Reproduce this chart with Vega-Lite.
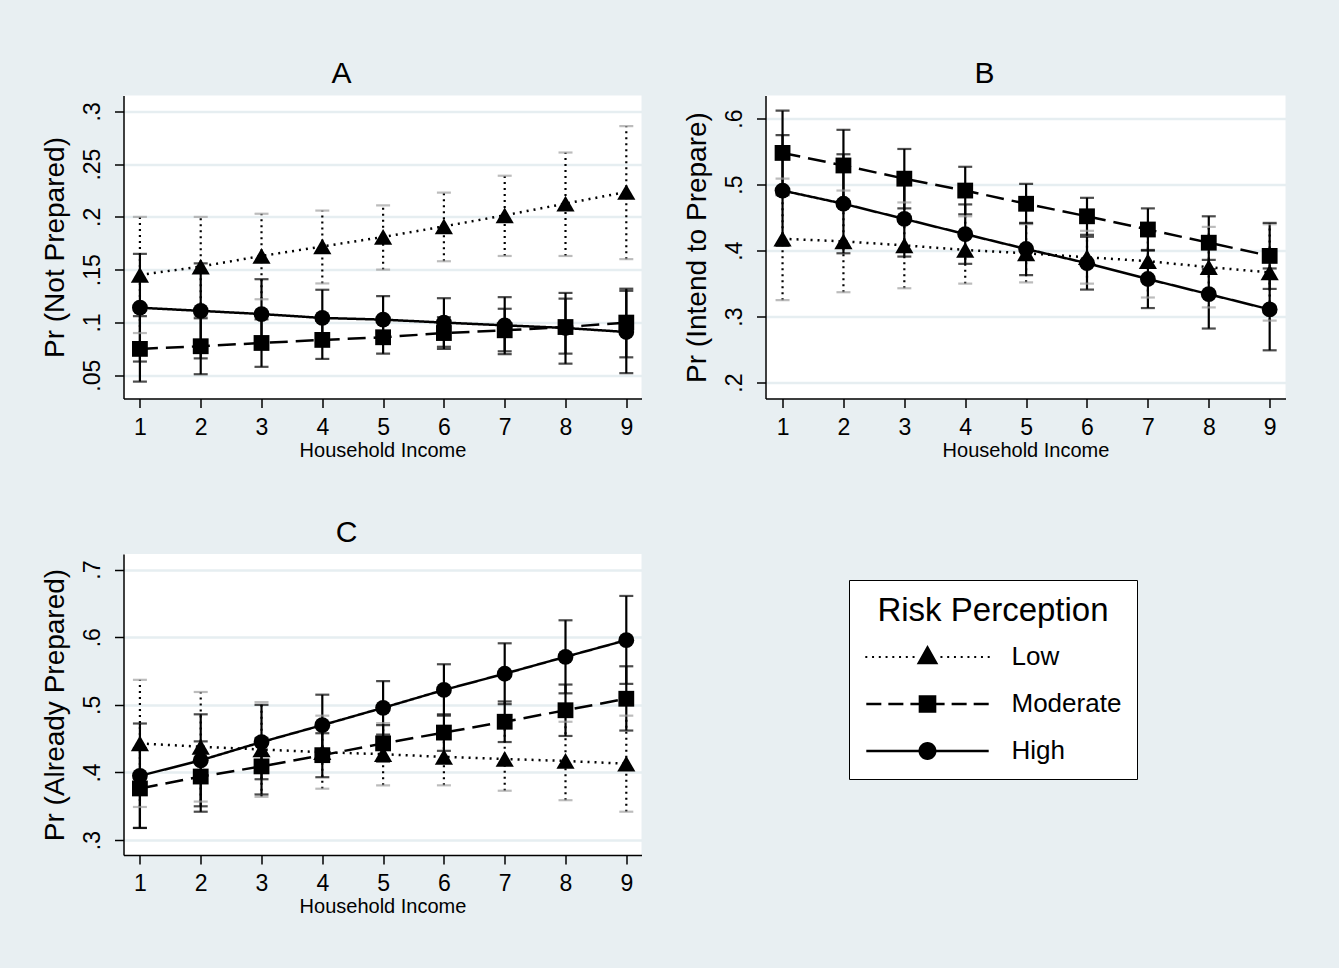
{
  "$schema": "https://vega.github.io/schema/vega-lite/v6.json",
  "background": "#e8eff2",
  "padding": {"left": 40.5, "top": 58.5, "right": 54, "bottom": 51},
  "config": {
    "font": "Liberation Sans",
    "view": {"stroke": null, "fill": "white"},
    "axis": {
      "domainColor": "black", "domainWidth": 1.5, "tickColor": "black", "tickWidth": 1.5, "tickSize": 9,
      "labelColor": "black", "titleColor": "black", "titleFontWeight": "normal",
      "gridColor": "#e6eef1", "gridWidth": 2.5, "labelFlush": false, "labelOverlap": false
    },
    "axisX": {"grid": false, "labelFontSize": 23, "titleFontSize": 20, "labelPadding": 8.5, "titlePadding": 1},
    "axisY": {"grid": true, "labelFontSize": 23, "titleFontSize": 28, "labelAngle": -90, "labelAlign": "center", "labelBaseline": "alphabetic", "labelPadding": 15, "titlePadding": 12, "labelExpr": "substring(format(datum.value, '.2~f'), 1)"},
    "title": {"fontSize": 30, "fontWeight": "normal", "color": "black", "offset": 6.5, "anchor": "middle", "frame": "bounds"},
    "legend": {"labelFont": "Liberation Sans", "titleFont": "Liberation Sans"}
  },
  "datasets": {
    "pred": [
      {"panel":"A","risk":"Low","income":1,"est":0.145,"lo":0.090,"hi":0.200},
      {"panel":"A","risk":"Low","income":2,"est":0.153,"lo":0.106,"hi":0.200},
      {"panel":"A","risk":"Low","income":3,"est":0.163,"lo":0.122,"hi":0.203},
      {"panel":"A","risk":"Low","income":4,"est":0.172,"lo":0.137,"hi":0.206},
      {"panel":"A","risk":"Low","income":5,"est":0.181,"lo":0.150,"hi":0.211},
      {"panel":"A","risk":"Low","income":6,"est":0.191,"lo":0.158,"hi":0.223},
      {"panel":"A","risk":"Low","income":7,"est":0.2015,"lo":0.163,"hi":0.239},
      {"panel":"A","risk":"Low","income":8,"est":0.2126,"lo":0.163,"hi":0.261},
      {"panel":"A","risk":"Low","income":9,"est":0.2236,"lo":0.160,"hi":0.286},
      {"panel":"A","risk":"Moderate","income":1,"est":0.075,"lo":0.044,"hi":0.106},
      {"panel":"A","risk":"Moderate","income":2,"est":0.0775,"lo":0.051,"hi":0.104},
      {"panel":"A","risk":"Moderate","income":3,"est":0.0806,"lo":0.058,"hi":0.103},
      {"panel":"A","risk":"Moderate","income":4,"est":0.0835,"lo":0.0655,"hi":0.1015},
      {"panel":"A","risk":"Moderate","income":5,"est":0.086,"lo":0.0705,"hi":0.1015},
      {"panel":"A","risk":"Moderate","income":6,"est":0.090,"lo":0.075,"hi":0.105},
      {"panel":"A","risk":"Moderate","income":7,"est":0.0926,"lo":0.0727,"hi":0.113},
      {"panel":"A","risk":"Moderate","income":8,"est":0.0957,"lo":0.0705,"hi":0.1226},
      {"panel":"A","risk":"Moderate","income":9,"est":0.0999,"lo":0.067,"hi":0.132},
      {"panel":"A","risk":"High","income":1,"est":0.114,"lo":0.063,"hi":0.165},
      {"panel":"A","risk":"High","income":2,"est":0.111,"lo":0.066,"hi":0.156},
      {"panel":"A","risk":"High","income":3,"est":0.108,"lo":0.075,"hi":0.141},
      {"panel":"A","risk":"High","income":4,"est":0.1043,"lo":0.078,"hi":0.131},
      {"panel":"A","risk":"High","income":5,"est":0.1027,"lo":0.080,"hi":0.125},
      {"panel":"A","risk":"High","income":6,"est":0.0999,"lo":0.077,"hi":0.123},
      {"panel":"A","risk":"High","income":7,"est":0.0973,"lo":0.070,"hi":0.124},
      {"panel":"A","risk":"High","income":8,"est":0.0948,"lo":0.061,"hi":0.128},
      {"panel":"A","risk":"High","income":9,"est":0.091,"lo":0.052,"hi":0.130},
      {"panel":"B","risk":"Low","income":1,"est":0.418,"lo":0.325,"hi":0.509},
      {"panel":"B","risk":"Low","income":2,"est":0.414,"lo":0.337,"hi":0.491},
      {"panel":"B","risk":"Low","income":3,"est":0.408,"lo":0.343,"hi":0.473},
      {"panel":"B","risk":"Low","income":4,"est":0.401,"lo":0.350,"hi":0.452},
      {"panel":"B","risk":"Low","income":5,"est":0.396,"lo":0.352,"hi":0.440},
      {"panel":"B","risk":"Low","income":6,"est":0.390,"lo":0.350,"hi":0.430},
      {"panel":"B","risk":"Low","income":7,"est":0.384,"lo":0.329,"hi":0.439},
      {"panel":"B","risk":"Low","income":8,"est":0.375,"lo":0.314,"hi":0.436},
      {"panel":"B","risk":"Low","income":9,"est":0.367,"lo":0.294,"hi":0.440},
      {"panel":"B","risk":"Moderate","income":1,"est":0.548,"lo":0.484,"hi":0.612},
      {"panel":"B","risk":"Moderate","income":2,"est":0.529,"lo":0.475,"hi":0.583},
      {"panel":"B","risk":"Moderate","income":3,"est":0.509,"lo":0.464,"hi":0.554},
      {"panel":"B","risk":"Moderate","income":4,"est":0.491,"lo":0.455,"hi":0.527},
      {"panel":"B","risk":"Moderate","income":5,"est":0.471,"lo":0.441,"hi":0.501},
      {"panel":"B","risk":"Moderate","income":6,"est":0.452,"lo":0.424,"hi":0.480},
      {"panel":"B","risk":"Moderate","income":7,"est":0.432,"lo":0.400,"hi":0.464},
      {"panel":"B","risk":"Moderate","income":8,"est":0.412,"lo":0.372,"hi":0.452},
      {"panel":"B","risk":"Moderate","income":9,"est":0.392,"lo":0.342,"hi":0.442},
      {"panel":"B","risk":"High","income":1,"est":0.491,"lo":0.407,"hi":0.575},
      {"panel":"B","risk":"High","income":2,"est":0.471,"lo":0.396,"hi":0.546},
      {"panel":"B","risk":"High","income":3,"est":0.448,"lo":0.391,"hi":0.505},
      {"panel":"B","risk":"High","income":4,"est":0.425,"lo":0.380,"hi":0.470},
      {"panel":"B","risk":"High","income":5,"est":0.4025,"lo":0.363,"hi":0.442},
      {"panel":"B","risk":"High","income":6,"est":0.381,"lo":0.341,"hi":0.421},
      {"panel":"B","risk":"High","income":7,"est":0.357,"lo":0.313,"hi":0.401},
      {"panel":"B","risk":"High","income":8,"est":0.334,"lo":0.282,"hi":0.386},
      {"panel":"B","risk":"High","income":9,"est":0.311,"lo":0.249,"hi":0.373},
      {"panel":"C","risk":"Low","income":1,"est":0.443,"lo":0.349,"hi":0.537},
      {"panel":"C","risk":"Low","income":2,"est":0.438,"lo":0.357,"hi":0.519},
      {"panel":"C","risk":"Low","income":3,"est":0.434,"lo":0.364,"hi":0.504},
      {"panel":"C","risk":"Low","income":4,"est":0.430,"lo":0.376,"hi":0.484},
      {"panel":"C","risk":"Low","income":5,"est":0.427,"lo":0.381,"hi":0.473},
      {"panel":"C","risk":"Low","income":6,"est":0.423,"lo":0.381,"hi":0.465},
      {"panel":"C","risk":"Low","income":7,"est":0.420,"lo":0.373,"hi":0.467},
      {"panel":"C","risk":"Low","income":8,"est":0.417,"lo":0.359,"hi":0.475},
      {"panel":"C","risk":"Low","income":9,"est":0.413,"lo":0.342,"hi":0.484},
      {"panel":"C","risk":"Moderate","income":1,"est":0.3764,"lo":0.318,"hi":0.436},
      {"panel":"C","risk":"Moderate","income":2,"est":0.394,"lo":0.342,"hi":0.446},
      {"panel":"C","risk":"Moderate","income":3,"est":0.409,"lo":0.3675,"hi":0.451},
      {"panel":"C","risk":"Moderate","income":4,"est":0.4256,"lo":0.393,"hi":0.458},
      {"panel":"C","risk":"Moderate","income":5,"est":0.443,"lo":0.416,"hi":0.470},
      {"panel":"C","risk":"Moderate","income":6,"est":0.459,"lo":0.432,"hi":0.486},
      {"panel":"C","risk":"Moderate","income":7,"est":0.475,"lo":0.445,"hi":0.505},
      {"panel":"C","risk":"Moderate","income":8,"est":0.492,"lo":0.454,"hi":0.530},
      {"panel":"C","risk":"Moderate","income":9,"est":0.509,"lo":0.462,"hi":0.557},
      {"panel":"C","risk":"High","income":1,"est":0.395,"lo":0.318,"hi":0.4724},
      {"panel":"C","risk":"High","income":2,"est":0.418,"lo":0.350,"hi":0.486},
      {"panel":"C","risk":"High","income":3,"est":0.445,"lo":0.390,"hi":0.500},
      {"panel":"C","risk":"High","income":4,"est":0.470,"lo":0.425,"hi":0.515},
      {"panel":"C","risk":"High","income":5,"est":0.4956,"lo":0.456,"hi":0.535},
      {"panel":"C","risk":"High","income":6,"est":0.522,"lo":0.484,"hi":0.560},
      {"panel":"C","risk":"High","income":7,"est":0.546,"lo":0.501,"hi":0.591},
      {"panel":"C","risk":"High","income":8,"est":0.571,"lo":0.517,"hi":0.625},
      {"panel":"C","risk":"High","income":9,"est":0.5956,"lo":0.531,"hi":0.661}
    ]
  },
  "spacing": 56.5,
  "vconcat": [
    {
      "spacing": 41,
      "hconcat": [
        {
          "width": 518, "height": 303,
          "title": {"text": "A"},
          "data": {"name": "pred"},
          "transform": [{"filter": "datum.panel === 'A'"}],
          "encoding": {"x": {"field": "income", "type": "quantitative", "title": "Household Income", "scale": {"domain": [0.73, 9.25], "nice": false, "zero": false}, "axis": {"values": [1,2,3,4,5,6,7,8,9], "format": "d"}}},
          "layer": [
            {"mark": {"type": "rule", "strokeWidth": 2.2, "color": "black"},
             "encoding": {"y": {"field": "lo", "type": "quantitative", "title": "Pr (Not Prepared)", "scale": {"domain": [0.028, 0.315], "nice": false, "zero": false}, "axis": {"values": [0.05,0.1,0.15,0.2,0.25,0.3]}},
                          "y2": {"field": "hi"},
                          "strokeDash": {"condition": {"test": "datum.risk === 'Low'", "value": [2,4]}, "value": [1,0]}}},
            {"mark": {"type": "tick", "orient": "horizontal", "size": 14, "thickness": 2.2},
             "encoding": {"y": {"field": "lo", "type": "quantitative", "title": "Pr (Not Prepared)", "scale": {"domain": [0.028, 0.315], "nice": false, "zero": false}},
                          "color": {"condition": {"test": "datum.risk === 'Low'", "value": "#a0a0a0"}, "value": "black"}}},
            {"mark": {"type": "tick", "orient": "horizontal", "size": 14, "thickness": 2.2},
             "encoding": {"y": {"field": "hi", "type": "quantitative", "title": "Pr (Not Prepared)", "scale": {"domain": [0.028, 0.315], "nice": false, "zero": false}},
                          "color": {"condition": {"test": "datum.risk === 'Low'", "value": "#a0a0a0"}, "value": "black"}}},
            {"mark": {"type": "line", "strokeWidth": 2.5, "color": "black"},
             "encoding": {"y": {"field": "est", "type": "quantitative", "title": "Pr (Not Prepared)", "scale": {"domain": [0.028, 0.315], "nice": false, "zero": false}},
                          "strokeDash": {"field": "risk", "type": "nominal", "scale": {"domain": ["Low","Moderate","High"], "range": [[2,5],[18,8],[1,0]]}, "legend": null}}},
            {"mark": {"type": "point", "filled": true, "color": "black", "opacity": 1},
             "encoding": {"y": {"field": "est", "type": "quantitative", "title": "Pr (Not Prepared)", "scale": {"domain": [0.028, 0.315], "nice": false, "zero": false}},
                          "shape": {"condition": [{"test": "datum.risk === 'Low'", "value": "triangle-up"}, {"test": "datum.risk === 'Moderate'", "value": "square"}], "value": "circle"},
                          "size": {"condition": {"test": "datum.risk === 'Low'", "value": 330}, "value": 250}}}
          ]
        },
        {
          "width": 520, "height": 303,
          "title": {"text": "B"},
          "data": {"name": "pred"},
          "transform": [{"filter": "datum.panel === 'B'"}],
          "encoding": {"x": {"field": "income", "type": "quantitative", "title": "Household Income", "scale": {"domain": [0.72, 9.26], "nice": false, "zero": false}, "axis": {"values": [1,2,3,4,5,6,7,8,9], "format": "d"}}},
          "layer": [
            {"mark": {"type": "rule", "strokeWidth": 2.2, "color": "black"},
             "encoding": {"y": {"field": "lo", "type": "quantitative", "title": "Pr (Intend to Prepare)", "scale": {"domain": [0.176, 0.635], "nice": false, "zero": false}, "axis": {"values": [0.2,0.3,0.4,0.5,0.6]}},
                          "y2": {"field": "hi"},
                          "strokeDash": {"condition": {"test": "datum.risk === 'Low'", "value": [2,4]}, "value": [1,0]}}},
            {"mark": {"type": "tick", "orient": "horizontal", "size": 14, "thickness": 2.2},
             "encoding": {"y": {"field": "lo", "type": "quantitative", "title": "Pr (Intend to Prepare)", "scale": {"domain": [0.176, 0.635], "nice": false, "zero": false}},
                          "color": {"condition": {"test": "datum.risk === 'Low'", "value": "#a0a0a0"}, "value": "black"}}},
            {"mark": {"type": "tick", "orient": "horizontal", "size": 14, "thickness": 2.2},
             "encoding": {"y": {"field": "hi", "type": "quantitative", "title": "Pr (Intend to Prepare)", "scale": {"domain": [0.176, 0.635], "nice": false, "zero": false}},
                          "color": {"condition": {"test": "datum.risk === 'Low'", "value": "#a0a0a0"}, "value": "black"}}},
            {"mark": {"type": "line", "strokeWidth": 2.5, "color": "black"},
             "encoding": {"y": {"field": "est", "type": "quantitative", "title": "Pr (Intend to Prepare)", "scale": {"domain": [0.176, 0.635], "nice": false, "zero": false}},
                          "strokeDash": {"field": "risk", "type": "nominal", "scale": {"domain": ["Low","Moderate","High"], "range": [[2,5],[18,8],[1,0]]}, "legend": null}}},
            {"mark": {"type": "point", "filled": true, "color": "black", "opacity": 1},
             "encoding": {"y": {"field": "est", "type": "quantitative", "title": "Pr (Intend to Prepare)", "scale": {"domain": [0.176, 0.635], "nice": false, "zero": false}},
                          "shape": {"condition": [{"test": "datum.risk === 'Low'", "value": "triangle-up"}, {"test": "datum.risk === 'Moderate'", "value": "square"}], "value": "circle"},
                          "size": {"condition": {"test": "datum.risk === 'Low'", "value": 330}, "value": 250}}}
          ]
        }
      ]
    },
    {
      "width": 518, "height": 301,
      "title": {"text": "C", "frame": "group", "dx": -36},
      "data": {"name": "pred"},
      "transform": [{"filter": "datum.panel === 'C'"}],
      "encoding": {"x": {"field": "income", "type": "quantitative", "title": "Household Income", "scale": {"domain": [0.73, 9.25], "nice": false, "zero": false}, "axis": {"values": [1,2,3,4,5,6,7,8,9], "format": "d"}}},
      "resolve": {"scale": {"shape": "independent"}, "legend": {"shape": "independent"}},
      "layer": [
        {"mark": {"type": "rule", "strokeWidth": 2.2, "color": "black"},
         "encoding": {"y": {"field": "lo", "type": "quantitative", "title": "Pr (Already Prepared)", "scale": {"domain": [0.278, 0.723], "nice": false, "zero": false}, "axis": {"values": [0.3,0.4,0.5,0.6,0.7]}},
                      "y2": {"field": "hi"},
                      "strokeDash": {"condition": {"test": "datum.risk === 'Low'", "value": [2,4]}, "value": [1,0]}}},
        {"mark": {"type": "tick", "orient": "horizontal", "size": 14, "thickness": 2.2},
         "encoding": {"y": {"field": "lo", "type": "quantitative", "title": "Pr (Already Prepared)", "scale": {"domain": [0.278, 0.723], "nice": false, "zero": false}},
                      "color": {"condition": {"test": "datum.risk === 'Low'", "value": "#a0a0a0"}, "value": "black"}}},
        {"mark": {"type": "tick", "orient": "horizontal", "size": 14, "thickness": 2.2},
         "encoding": {"y": {"field": "hi", "type": "quantitative", "title": "Pr (Already Prepared)", "scale": {"domain": [0.278, 0.723], "nice": false, "zero": false}},
                      "color": {"condition": {"test": "datum.risk === 'Low'", "value": "#a0a0a0"}, "value": "black"}}},
        {"mark": {"type": "line", "strokeWidth": 2.5, "color": "black"},
         "encoding": {"y": {"field": "est", "type": "quantitative", "title": "Pr (Already Prepared)", "scale": {"domain": [0.278, 0.723], "nice": false, "zero": false}},
                      "detail": {"field": "risk", "type": "nominal"},
                      "strokeDash": {"condition": [{"test": "datum.risk === 'Low'", "value": [2,5]}, {"test": "datum.risk === 'Moderate'", "value": [18,8]}], "value": [1,0]}}},
        {"mark": {"type": "point", "filled": true, "color": "black", "opacity": 1},
         "encoding": {"y": {"field": "est", "type": "quantitative", "title": "Pr (Already Prepared)", "scale": {"domain": [0.278, 0.723], "nice": false, "zero": false}},
                      "shape": {"condition": [{"test": "datum.risk === 'Low'", "value": "triangle-up"}, {"test": "datum.risk === 'Moderate'", "value": "square"}], "value": "circle"},
                      "size": {"condition": {"test": "datum.risk === 'Low'", "value": 330}, "value": 250}}},
        {"transform": [{"filter": "false"}],
         "mark": {"type": "point", "filled": true, "color": "black", "opacity": 1},
         "encoding": {
           "shape": {"field": "risk", "type": "nominal",
            "scale": {"domain": ["Low","Moderate","High"], "range": [
              "M0,-1.33L1.2,0.81L-1.2,0.81Z M-6.91,-0.11h0.22v0.22h-0.22Z M-6.16,-0.11h0.22v0.22h-0.22Z M-5.41,-0.11h0.22v0.22h-0.22Z M-4.66,-0.11h0.22v0.22h-0.22Z M-3.91,-0.11h0.22v0.22h-0.22Z M-3.16,-0.11h0.22v0.22h-0.22Z M-2.41,-0.11h0.22v0.22h-0.22Z M-1.66,-0.11h0.22v0.22h-0.22Z M1.44,-0.11h0.22v0.22h-0.22Z M2.19,-0.11h0.22v0.22h-0.22Z M2.94,-0.11h0.22v0.22h-0.22Z M3.69,-0.11h0.22v0.22h-0.22Z M4.44,-0.11h0.22v0.22h-0.22Z M5.19,-0.11h0.22v0.22h-0.22Z M5.94,-0.11h0.22v0.22h-0.22Z M6.69,-0.11h0.22v0.22h-0.22Z",
              "M-0.98,-0.98H0.98V0.98H-0.98Z M-6.8,-0.14H-5.13V0.14H-6.8Z M-4.35,-0.14H-2.68V0.14H-4.35Z M-1.9,-0.14H-0.5V0.14H-1.9Z M0.5,-0.14H1.9V0.14H0.5Z M2.68,-0.14H4.35V0.14H2.68Z M5.13,-0.14H6.8V0.14H5.13Z",
              "M-6.8,-0.14H6.8V0.14H-6.8Z M-1,0A1,1,0,1,1,1,0A1,1,0,1,1,-1,0Z"]},
            "legend": {"title": "Risk Perception", "orient": "none", "legendX": 725.5, "legendY": 26, "direction": "vertical",
              "titleFontSize": 33, "titleFontWeight": "normal", "titleColor": "black", "titleAnchor": "middle", "titlePadding": 16, "titleLimit": 500,
              "labelFontSize": 26, "labelColor": "black", "labelLimit": 300, "padding": 15, "rowPadding": 21,
              "symbolSize": 324, "symbolOffset": 50.5, "labelOffset": 71,
              "strokeColor": "black", "fillColor": "white",
              "symbolStrokeWidth": 0, "symbolFillColor": "black", "symbolStrokeColor": "black"}}}}
      ]
    }
  ]
}
